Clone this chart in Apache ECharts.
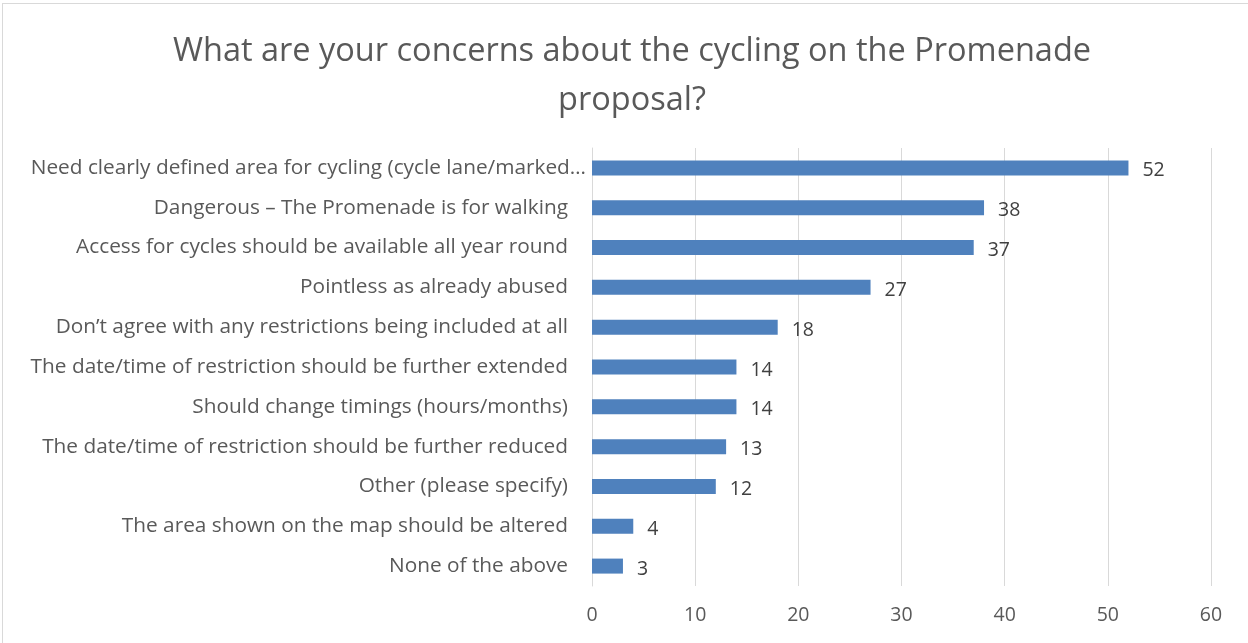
<!DOCTYPE html>
<html>
<head>
<meta charset="utf-8">
<script src="https://cdn.jsdelivr.net/npm/echarts@6/dist/echarts.min.js"></script>
<style>
html,body{margin:0;padding:0;background:#fff;}
#wrap{position:absolute;left:2px;top:3px;width:1250px;height:645px;border:1px solid #d9d9d9;box-sizing:border-box;}
#chart{position:absolute;left:0;top:0;width:1248px;height:643px;}
</style>
</head>
<body>
<div id="wrap"></div>
<div id="chart"></div>
<script>
const titleText = "What are your concerns about the cycling on the Promenade\nproposal?";
const categories = [
  "Need clearly defined area for cycling (cycle lane/marked…",
  "Dangerous – The Promenade is for walking",
  "Access for cycles should be available all year round",
  "Pointless as already abused",
  "Don’t agree with any restrictions being included at all",
  "The date/time of restriction should be further extended",
  "Should change timings (hours/months)",
  "The date/time of restriction should be further reduced",
  "Other (please specify)",
  "The area shown on the map should be altered",
  "None of the above"
];
const values = [52, 38, 37, 27, 18, 14, 14, 13, 12, 4, 3];
const xTicks = { min: 0, max: 60, interval: 10 };

const chart = echarts.init(document.getElementById('chart'));
const font = "'Open Sans', 'Liberation Sans', sans-serif";
chart.setOption({
  animation: false,
  title: {
    text: titleText,
    left: 627, textAlign: 'center', top: 22,
    textStyle: { fontFamily: font, fontSize: 32.5, fontWeight: 'normal', color: '#595959', lineHeight: 49 }
  },
  grid: { left: 592, right: 37, top: 148, bottom: 57, containLabel: false },
  xAxis: {
    type: 'value', min: xTicks.min, max: xTicks.max, interval: xTicks.interval,
    axisLine: { show: false }, axisTick: { show: false },
    splitLine: { show: true, lineStyle: { color: '#d9d9d9', width: 1 } },
    axisLabel: { fontFamily: font, fontSize: 19.5, color: '#595959', margin: 19 }
  },
  yAxis: {
    type: 'category', data: categories, inverse: true,
    axisLine: { show: true, lineStyle: { color: '#d9d9d9' } },
    axisTick: { show: false },
    axisLabel: {
      fontFamily: font, fontSize: 20.8, color: '#595959', margin: 24,
      formatter: function (v, i) { return i === 0 ? '{f|' + v + '}' : v; },
      rich: { f: { fontFamily: font, fontSize: 20.8, color: '#595959', padding: [0, -18, 0, 0] } }
    }
  },
  series: [{
    type: 'bar', data: values, barWidth: 15,
    itemStyle: { color: '#4f81bd' },
    label: { show: true, position: 'right', distance: 14, fontFamily: font, fontSize: 19.5, color: '#404040', offset: [0, 3] }
  }]
});
</script>
</body>
</html>
